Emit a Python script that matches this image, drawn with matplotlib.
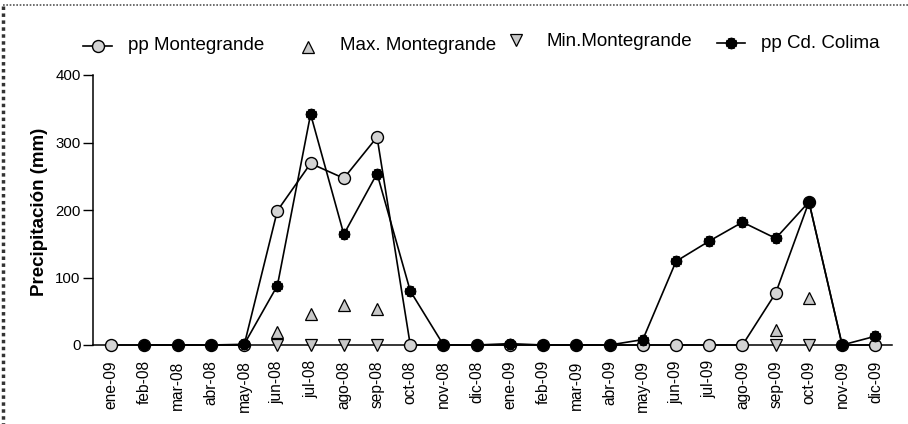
import numpy as np
import matplotlib
matplotlib.use("Agg")
import matplotlib.pyplot as plt
from matplotlib.lines import Line2D

plt.rcParams['font.family'] = ['Liberation Sans', 'DejaVu Sans']

months = ["ene-09", "feb-08", "mar-08", "abr-08", "may-08", "jun-08", "jul-08",
          "ago-08", "sep-08", "oct-08", "nov-08", "dic-08", "ene-09", "feb-09",
          "mar-09", "abr-09", "may-09", "jun-09", "jul-09", "ago-09", "sep-09",
          "oct-09", "nov-09", "dic-09"]

nan = np.nan
pp_montegrande = [0, 0, 0, 0, 0, 199, 269, 247, 308, 0, 0, 0,
                  0, 0, 0, 0, 0, 0, 0, 0, 77, 212, 0, 0]
max_montegrande = [nan, nan, nan, nan, nan, 20, 46, 60, 53, nan, nan, nan,
                   nan, nan, nan, nan, nan, nan, nan, nan, 22, 69, nan, nan]
min_montegrande = [nan, nan, nan, nan, nan, 0, 0, 0, 0, nan, nan, nan,
                   nan, nan, nan, nan, nan, nan, nan, nan, 0, 0, nan, nan]
pp_colima = [nan, 0, 0, 0, 1, 88, 342, 164, 254, 80, 0, 0,
             2, 0, 0, 0, 8, 124, 154, 182, 158, 212, 0, 13]

yticks = [0, 100, 200, 300, 400]
legend_labels = ["pp Montegrande", "Max. Montegrande", "Min.Montegrande", "pp Cd. Colima"]

W, H = 908, 424
fig = plt.figure(figsize=(W / 100, H / 100), dpi=100)
ax = fig.add_axes([93 / W, 1 - 345 / H, (892 - 93) / W, (345 - 75) / H])

x = np.arange(len(months))
grey = "#d4d4d4"
star = (12, 1, 0)

circ = dict(marker="o", markersize=8.6, markerfacecolor=grey, markeredgecolor="black",
            markeredgewidth=1.0)
tri_up = dict(marker="^", markersize=8.6, markerfacecolor="#c8c8c8",
              markeredgecolor="black", markeredgewidth=0.9, linestyle="none")
tri_dn = dict(marker="v", markersize=8.6, markerfacecolor="#c8c8c8",
              markeredgecolor="black", markeredgewidth=0.9, linestyle="none")
stars = dict(marker=star, markersize=8.2, markerfacecolor="black",
             markeredgecolor="black", markeredgewidth=1.4)

ax.plot(x, pp_montegrande, color="black", lw=1.2, clip_on=False, zorder=3, **circ)
ax.plot(x, max_montegrande, clip_on=False, zorder=4, **tri_up)
ax.plot(x, min_montegrande, clip_on=False, zorder=4, **tri_dn)
ax.plot(x, pp_colima, color="black", lw=1.2, clip_on=False, zorder=5, **stars)

ax.set_xlim(-0.55, len(months) - 0.5)
ax.set_ylim(0, 400)
ax.set_yticks(yticks)
ax.set_xticks(x)
ax.set_xticklabels(months, rotation=90, ha="center", va="top", fontsize=11.2)
ax.tick_params(axis="x", length=0, pad=11)
ax.tick_params(axis="y", length=7, width=1, pad=2, labelsize=10.8, direction="out")
for s in ("top", "right"):
    ax.spines[s].set_visible(False)
ax.spines["left"].set_linewidth(1.1)
ax.spines["bottom"].set_linewidth(1.1)
ax.patch.set_visible(False)

fig.text(40 / W, 1 - 212 / H, "Precipitación (mm)", rotation=90, ha="center",
         va="center", fontsize=13.5, fontweight="bold")

# legend row drawn in figure pixel coordinates
def px(xp, yp):
    return xp / W, 1 - yp / H

def handle(xs, ys, **kw):
    fx = [a / W for a in xs]
    fy = [1 - b / H for b in ys]
    fig.add_artist(Line2D(fx, fy, transform=fig.transFigure, **kw))

handle([83, 112], [46, 46], color="black", lw=1.2)
handle([97.5], [46], **circ)
fig.text(*px(128, 46), legend_labels[0], ha="left", va="center", fontsize=13.5)

handle([308], [47], **tri_up)
fig.text(*px(340, 46), legend_labels[1], ha="left", va="center", fontsize=13.5)

handle([516], [40], **tri_dn)
fig.text(*px(546, 42), legend_labels[2], ha="left", va="center", fontsize=13.5)

handle([717, 745], [43, 43], color="black", lw=1.2)
handle([731], [43], **stars)
fig.text(*px(761, 43), legend_labels[3], ha="left", va="center", fontsize=13.5)

# dotted frame on the left and top edges
handle([3, 3], [6, 424], color="#333333", lw=2.5, linestyle=(0, (1, 1)))
handle([3, 908], [5, 5], color="#555555", lw=1.2, linestyle=(0, (1, 1)))

fig.savefig("out.png", dpi=100)
